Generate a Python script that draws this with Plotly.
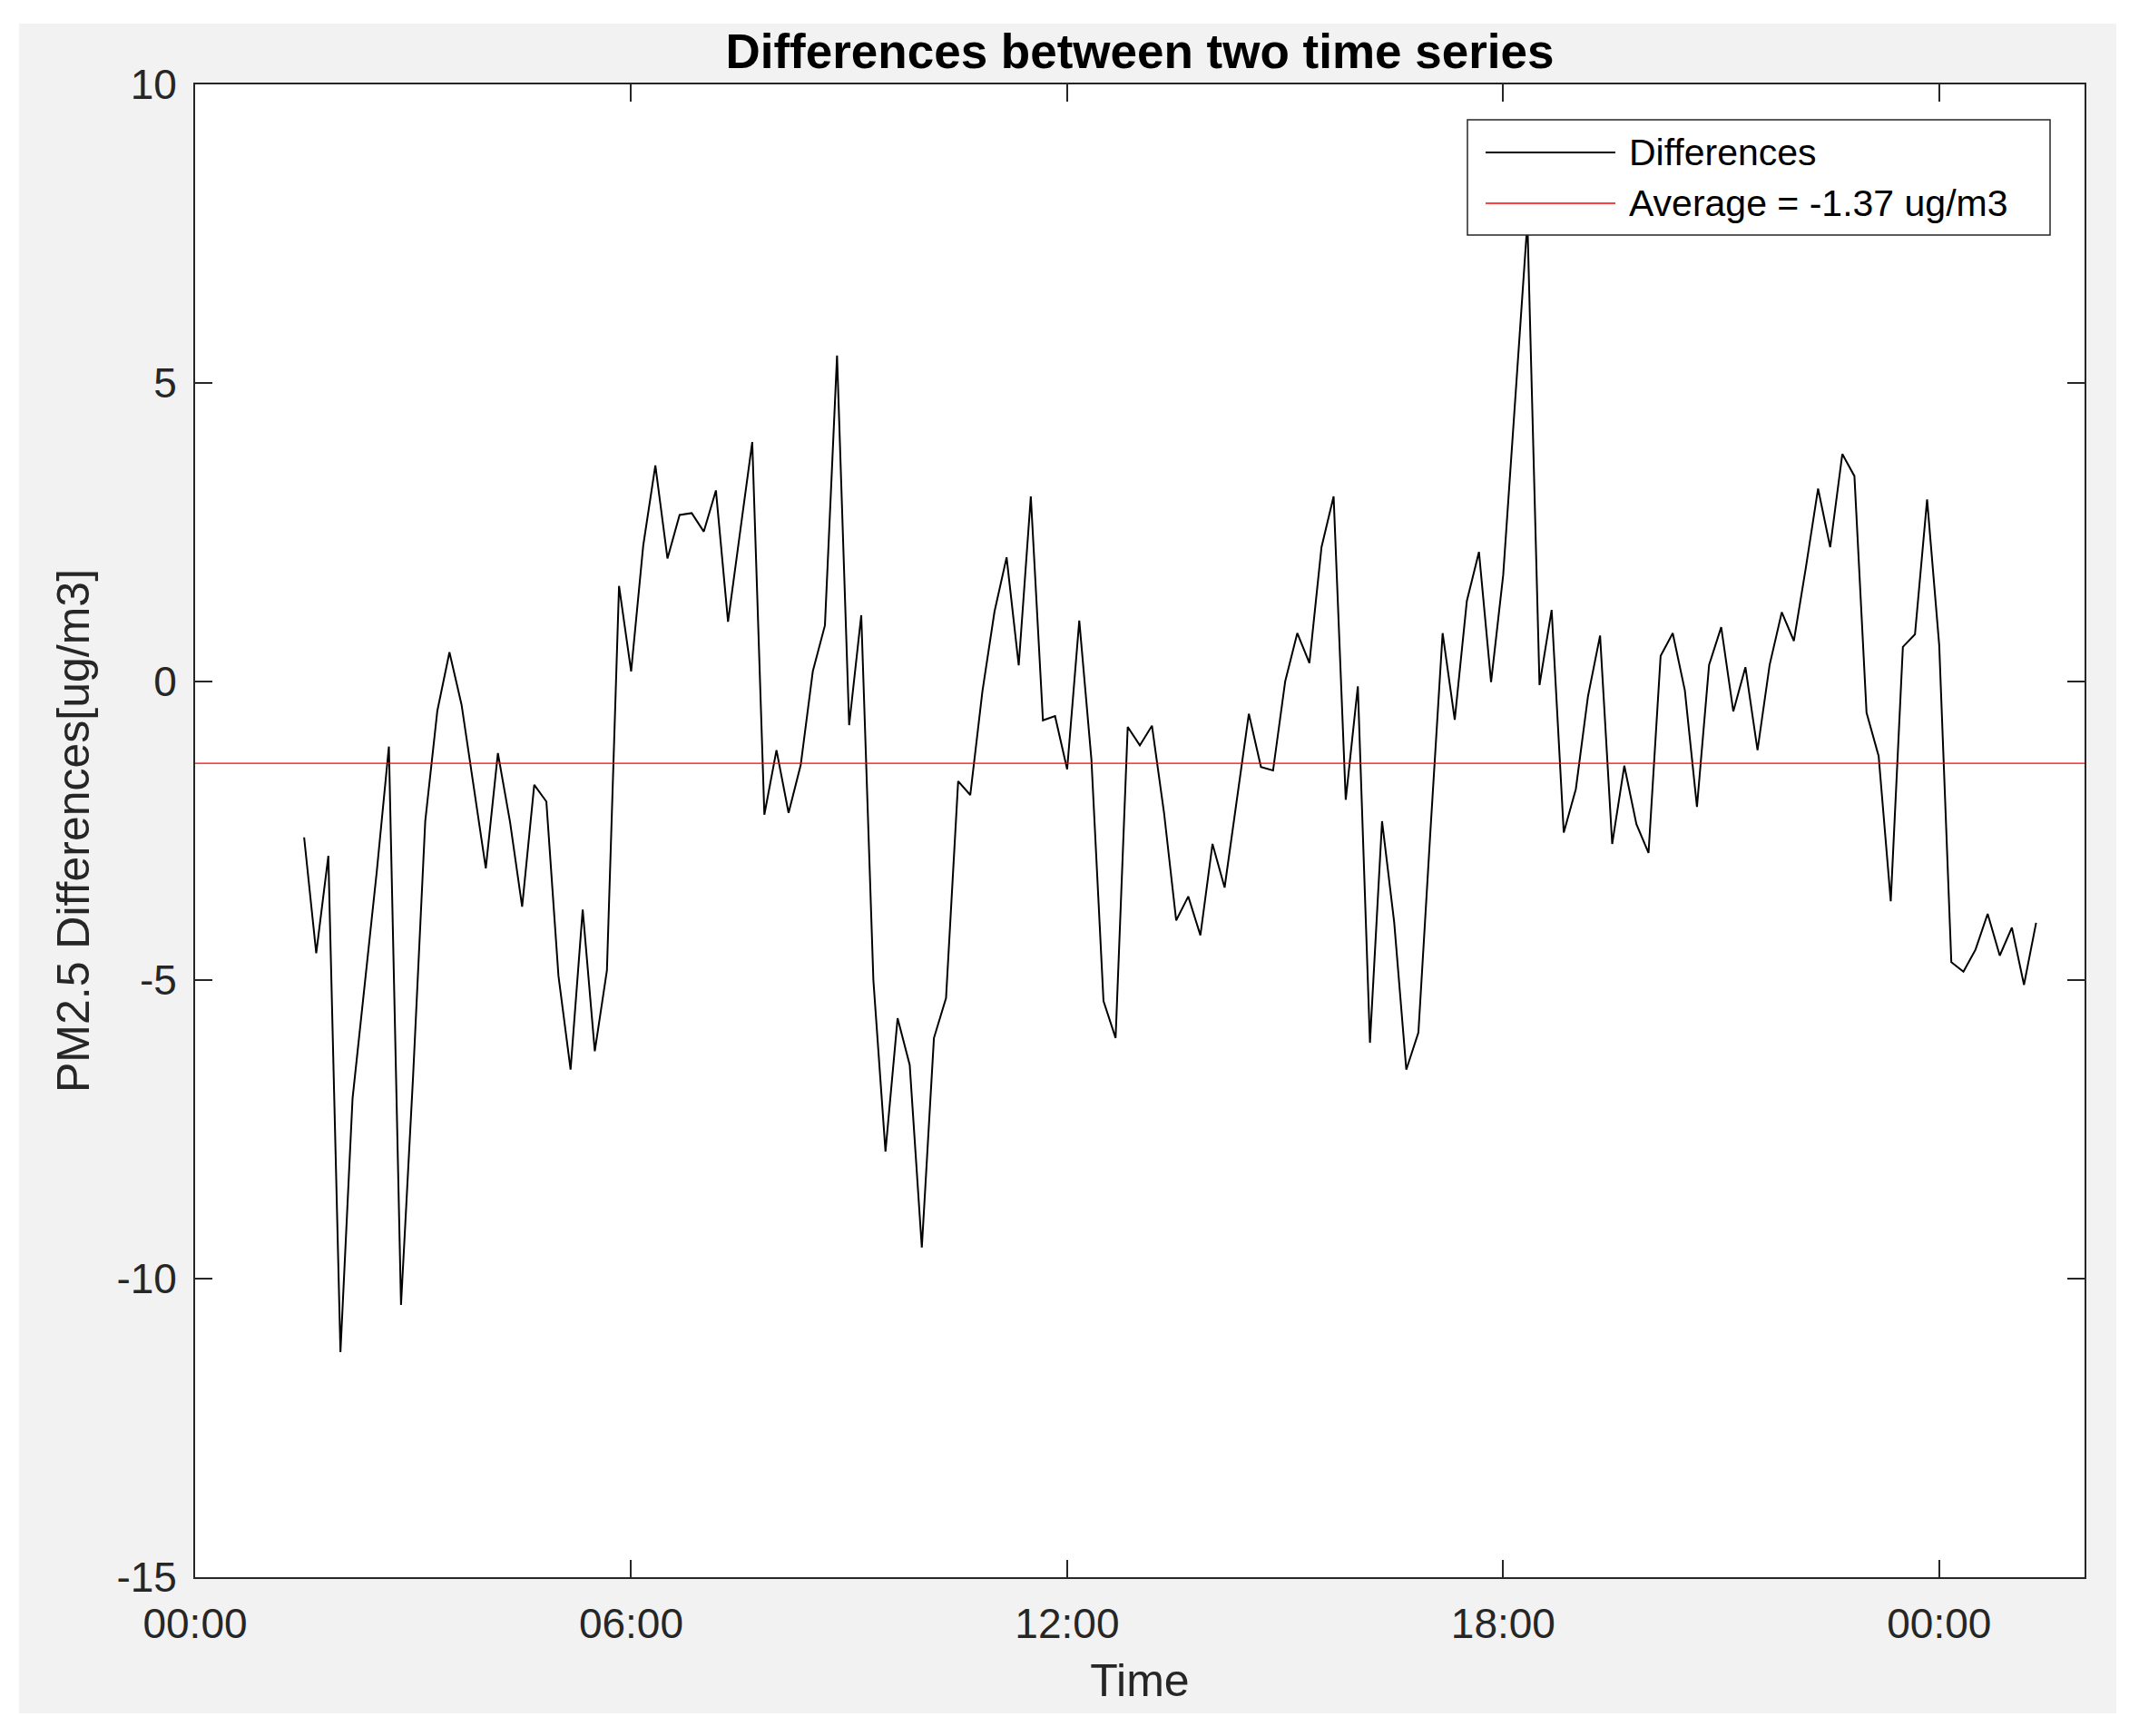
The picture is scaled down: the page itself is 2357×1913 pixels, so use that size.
import plotly.graph_objects as go
import pandas as pd

# ---------------- data ----------------
START_TIME = "2020-01-01 01:30"
STEP = "10min"
differences = [
    -2.61, -4.55, -2.92, -11.23, -6.98, -5.12, -3.18, -1.09, -10.44, -6.6,
    -2.34, -0.49, 0.49, -0.39, -1.78, -3.13, -1.2, -2.35, -3.77, -1.73,
    -2.01, -4.93, -6.5, -3.82, -6.19, -4.84, 1.6, 0.17, 2.28, 3.62,
    2.06, 2.79, 2.82, 2.51, 3.2, 1.0, 2.51, 4.01, -2.23, -1.15,
    -2.2, -1.4, 0.17, 0.94, 5.46, -0.73, 1.11, -5.0, -7.87, -5.64,
    -6.42, -9.48, -5.97, -5.3, -1.67, -1.9, -0.17, 1.17, 2.08, 0.27,
    3.1, -0.65, -0.58, -1.47, 1.02, -1.3, -5.35, -5.97, -0.76, -1.07,
    -0.74, -2.2, -4.0, -3.6, -4.25, -2.72, -3.45, -2.02, -0.54, -1.43,
    -1.49, 0.0, 0.81, 0.31, 2.25, 3.1, -1.98, -0.08, -6.05, -2.34,
    -4.03, -6.5, -5.88, -2.48, 0.81, -0.64, 1.35, 2.17, -0.01, 1.78,
    4.7, 7.7, -0.06, 1.2, -2.53, -1.8, -0.25, 0.77, -2.72, -1.41,
    -2.39, -2.87, 0.43, 0.81, -0.15, -2.1, 0.28, 0.91, -0.5, 0.24,
    -1.15, 0.28, 1.16, 0.68, 1.92, 3.23, 2.25, 3.81, 3.44, -0.52,
    -1.25, -3.68, 0.58, 0.79, 3.05, 0.61, -4.7, -4.86, -4.49, -3.89,
    -4.59, -4.12, -5.08, -4.04,
]
AVERAGE = -1.37

x_range = ["2020-01-01 00:00", "2020-01-02 02:00"]
x_tickvals = ["2020-01-01 00:00", "2020-01-01 06:00", "2020-01-01 12:00",
              "2020-01-01 18:00", "2020-01-02 00:00"]
x_ticktext = ["00:00", "06:00", "12:00", "18:00", "00:00"]
y_range = [-15, 10]
y_tickvals = [-15, -10, -5, 0, 5, 10]
y_ticktext = ["-15", "-10", "-5", "0", "5", "10"]

legend_labels = ["Differences", "Average = -1.37 ug/m3"]
TITLE = "Differences between two time series"
X_TITLE = "Time"
Y_TITLE = "PM2.5 Differences[ug/m3]"

# ---------------- figure ----------------
FONT = "Liberation Sans, Arial, Helvetica, sans-serif"
AX = "#262626"

times = pd.date_range(START_TIME, periods=len(differences), freq=STEP)

fig = go.Figure()
fig.add_trace(go.Scatter(
    x=times, y=differences, mode="lines", name=legend_labels[0],
    line=dict(color="#000000", width=2), showlegend=False,
))
fig.add_trace(go.Scatter(
    x=x_range, y=[AVERAGE, AVERAGE], mode="lines", name=legend_labels[1],
    line=dict(color="#ff0000", width=1.3), showlegend=False,
))

W, H = 2357, 1913
L, R, T, B = 215, 60, 93, 175
pw, ph = W - L - R, H - T - B


def px(X):
    return (X - L) / pw


def py(Y):
    return (H - B - Y) / ph


shapes = [
    # grey figure background
    dict(type="rect", xref="paper", yref="paper", layer="below",
         x0=px(21), x1=px(2332), y0=py(1888), y1=py(26),
         fillcolor="#f2f2f2", line=dict(width=0)),
    # white axes area
    dict(type="rect", xref="paper", yref="paper", layer="below",
         x0=0, x1=1, y0=0, y1=1, fillcolor="#ffffff", line=dict(width=0)),
    # legend box
    dict(type="rect", xref="paper", yref="paper", layer="above",
         x0=px(1617), x1=px(2259), y0=py(259), y1=py(132),
         fillcolor="#ffffff", line=dict(color=AX, width=1.5)),
    dict(type="line", xref="paper", yref="paper", layer="above",
         x0=px(1637), x1=px(1780), y0=py(168), y1=py(168),
         line=dict(color="#000000", width=2)),
    dict(type="line", xref="paper", yref="paper", layer="above",
         x0=px(1637), x1=px(1780), y0=py(224), y1=py(224),
         line=dict(color="#ff0000", width=1.3)),
]
annotations = [
    dict(xref="paper", yref="paper", x=px(1793), y=py(168), text=legend_labels[0],
         showarrow=False, xanchor="left", yanchor="middle",
         font=dict(family=FONT, size=41, color="#000000")),
    dict(xref="paper", yref="paper", x=px(1793), y=py(224), text=legend_labels[1],
         showarrow=False, xanchor="left", yanchor="middle",
         font=dict(family=FONT, size=41, color="#000000")),
]

fig.update_layout(
    width=W, height=H,
    margin=dict(l=L, r=R, t=T, b=B, autoexpand=False),
    paper_bgcolor="#ffffff", plot_bgcolor="#ffffff",
    showlegend=False,
    title=dict(text=TITLE, x=0.5, xref="paper", xanchor="center",
               y=1 - 56 / H, yref="container", yanchor="middle",
               font=dict(family=FONT, size=53, color="#000000", weight="bold")),
    shapes=shapes, annotations=annotations,
    xaxis=dict(
        type="date", range=x_range, tickvals=x_tickvals, ticktext=x_ticktext,
        ticks="inside", ticklen=19, tickwidth=1.5, tickcolor=AX,
        showline=True, linecolor=AX, linewidth=1.8, mirror="ticks",
        showgrid=False, zeroline=False, automargin=False,
        tickfont=dict(family=FONT, size=46, color=AX),
        ticklabelstandoff=10,
        title=dict(text=X_TITLE, font=dict(family=FONT, size=50, color=AX), standoff=20),
    ),
    yaxis=dict(
        range=y_range, tickvals=y_tickvals, ticktext=y_ticktext,
        ticks="inside", ticklen=19, tickwidth=1.5, tickcolor=AX,
        showline=True, linecolor=AX, linewidth=1.8, mirror="ticks",
        showgrid=False, zeroline=False, automargin=False,
        tickfont=dict(family=FONT, size=46, color=AX),
        ticklabelstandoff=9,
        title=dict(text=Y_TITLE, font=dict(family=FONT, size=50, color=AX), standoff=14),
    ),
)

fig.write_html("out.html", config={"displayModeBar": False},
               post_script="document.body.style.margin='0';document.body.style.overflow='hidden';")
